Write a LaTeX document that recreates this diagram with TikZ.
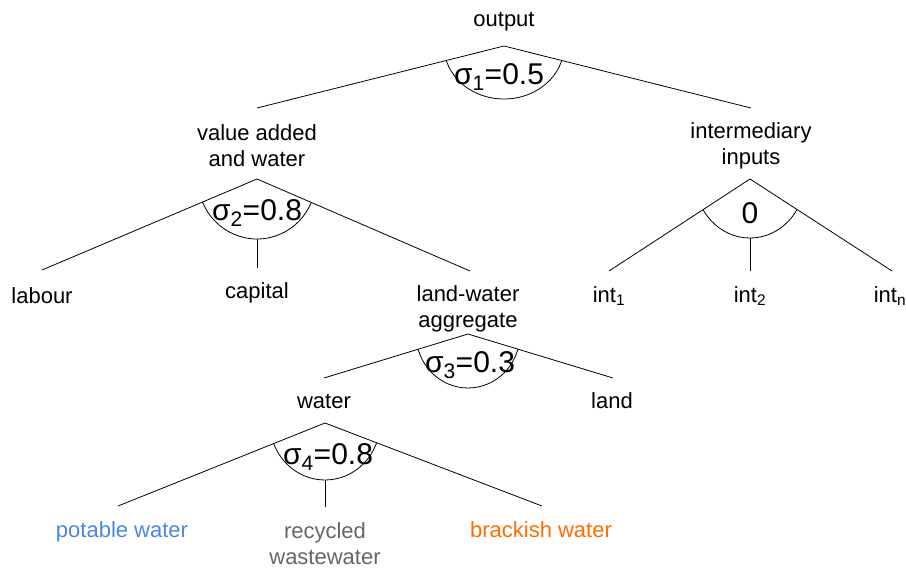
\documentclass[tikz,border=0pt]{standalone}
\usepackage{fontspec}
\setmainfont{Liberation Sans}
\definecolor{potable}{HTML}{4A86E8}
\definecolor{recyc}{HTML}{666666}
\definecolor{brack}{HTML}{FF6D01}
\newcommand\sgm[2]{σ\textsubscript{#1}=#2}
\begin{document}
\begin{tikzpicture}[x=1pt,y=-1pt,
  lbl/.style={font=\fontsize{22}{26}\selectfont, inner sep=0pt, align=center},
  sig/.style={font=\fontsize{30}{34}\selectfont, inner sep=0pt},
  edge/.style={line width=0.8pt, black},
]
\useasboundingbox (0,0) rectangle (906,568);

% ---------- labels ----------
\node[lbl, anchor=base] (out) at (504,26) {output};
\node[lbl] (vaw) at (257,146) {value added\\and water};
\node[lbl] (int) at (751,146) {intermediary\\inputs};
\node[lbl, anchor=base] (lab) at (42,303) {labour};
\node[lbl, anchor=base] (cap) at (257,298) {capital};
\node[lbl] (lwa) at (468,309) {land-water\\aggregate};
\node[lbl, anchor=base] (i1) at (609,302) {int\textsubscript{1}};
\node[lbl, anchor=base] (i2) at (750,302) {int\textsubscript{2}};
\node[lbl, anchor=base] (in) at (890,302) {int\textsubscript{n}};
\node[lbl, anchor=base] (wat) at (324,408) {water};
\node[lbl, anchor=base] (land) at (612,408) {land};
\node[lbl, anchor=base, text=potable] (pot) at (122,537) {potable water};
\node[lbl, text=recyc] (rec) at (325,544) {recycled\\wastewater};
\node[lbl, anchor=base, text=brack] (bra) at (541,537) {brackish water};

% ---------- sigma labels ----------
\node[sig] (s1) at (499,77) {\sgm{1}{0.5}};
\node[sig] (s2) at (257,213) {\sgm{2}{0.8}};
\node[sig] (s0) at (750,213) {0};
\node[sig] (s3) at (470,365) {\sgm{3}{0.3}};
\node[sig] (s4) at (328,457) {\sgm{4}{0.8}};

% ---------- coordinates ----------
\coordinate (a1) at (504,46);
\coordinate (a1l) at (257,108);
\coordinate (a1r) at (751,108);

\coordinate (a2) at (257,179);
\coordinate (a2l) at (42,270);
\coordinate (a2m) at (257,239);
\coordinate (a2mb) at (257,268);
\coordinate (a2r) at (470,271);

\coordinate (a3) at (750,179);
\coordinate (a3l) at (609,271);
\coordinate (a3m) at (750,238);
\coordinate (a3mb) at (750,271);
\coordinate (a3r) at (892,271);

\coordinate (a4) at (468,334);
\coordinate (a4l) at (324,378);
\coordinate (a4r) at (613,378);

\coordinate (a5) at (325,423);
\coordinate (a5l) at (118,506);
\coordinate (a5m) at (325,480);
\coordinate (a5mb) at (325,507);
\coordinate (a5r) at (542,506);

% ---------- branches ----------
\draw[edge] (a1l) -- (a1) -- (a1r);
\draw[edge] (a2l) -- (a2) -- (a2r);
\draw[edge] (a2m) -- (a2mb);
\draw[edge] (a3l) -- (a3) -- (a3r);
\draw[edge] (a3m) -- (a3mb);
\draw[edge] (a4l) -- (a4) -- (a4r);
\draw[edge] (a5l) -- (a5) -- (a5r);
\draw[edge] (a5m) -- (a5mb);

% ---------- elasticity arcs ----------
\begin{scope}
\clip (a1) -- (a1l) -- ++(0,200) -| (a1r) -- cycle;
\draw[edge] (a1) ellipse [x radius=60pt, y radius=53pt];
\end{scope}
\begin{scope}
\clip (a2) -- (a2l) -- ++(0,200) -| (a2r) -- cycle;
\draw[edge] (a2) ellipse [x radius=59pt, y radius=60pt];
\end{scope}
\begin{scope}
\clip (a3) -- (a3l) -- ++(0,200) -| (a3r) -- cycle;
\draw[edge] (a3) ellipse [x radius=55pt, y radius=59pt];
\end{scope}
\begin{scope}
\clip (a4) -- (a4l) -- ++(0,200) -| (a4r) -- cycle;
\draw[edge] (a4) ellipse [x radius=52pt, y radius=54pt];
\end{scope}
\begin{scope}
\clip (a5) -- (a5l) -- ++(0,200) -| (a5r) -- cycle;
\draw[edge] (a5) ellipse [x radius=55pt, y radius=57pt];
\end{scope}
\end{tikzpicture}
\end{document}
